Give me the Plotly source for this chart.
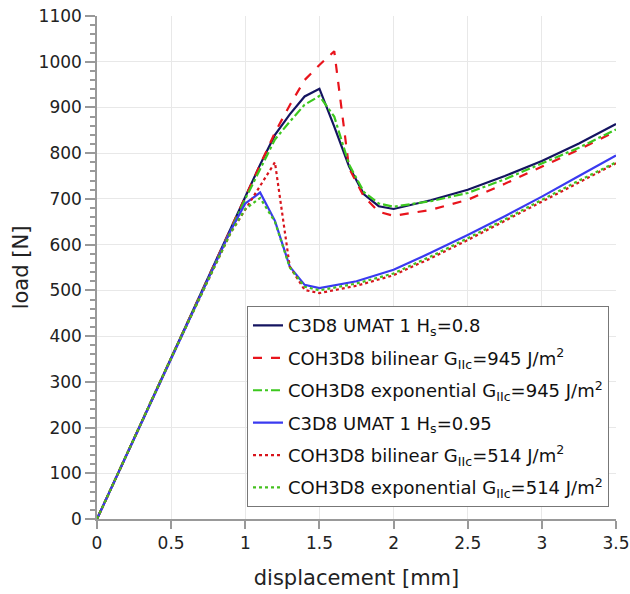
import plotly.graph_objects as go

# ---- data (displacement [mm], load [N]) ----
x_c3d8_08 = [0, 0.5, 1.0, 1.1, 1.2, 1.3, 1.4, 1.5, 1.6, 1.7, 1.8, 1.9, 2.0, 2.25, 2.5, 2.75, 3.0, 3.25, 3.5]
y_c3d8_08 = [0, 352, 705, 775, 840, 885, 924, 941, 858, 771, 710, 684, 678, 697, 720, 750, 783, 821, 864]

x_bil_945 = [0, 0.5, 1.0, 1.1, 1.2, 1.3, 1.4, 1.5, 1.6, 1.7, 1.8, 1.9, 2.0, 2.25, 2.5, 2.75, 3.0, 3.25, 3.5]
y_bil_945 = [0, 352, 705, 775, 845, 905, 960, 993, 1023, 767, 705, 672, 663, 676, 698, 733, 771, 808, 848]

x_exp_945 = [0, 0.5, 1.0, 1.1, 1.2, 1.3, 1.4, 1.5, 1.6, 1.7, 1.8, 1.9, 2.0, 2.25, 2.5, 2.75, 3.0, 3.25, 3.5]
y_exp_945 = [0, 352, 700, 765, 830, 869, 906, 925, 880, 775, 715, 690, 683, 695, 713, 743, 777, 812, 852]

x_c3d8_095 = [0, 0.5, 0.9, 1.0, 1.1, 1.2, 1.3, 1.4, 1.5, 1.75, 2.0, 2.25, 2.5, 2.75, 3.0, 3.25, 3.5]
y_c3d8_095 = [0, 352, 630, 690, 714, 652, 552, 512, 505, 520, 545, 582, 621, 662, 705, 750, 795]

x_bil_514 = [0, 0.5, 0.9, 1.0, 1.1, 1.2, 1.3, 1.4, 1.5, 1.75, 2.0, 2.25, 2.5, 2.75, 3.0, 3.25, 3.5]
y_bil_514 = [0, 352, 625, 676, 728, 780, 552, 501, 494, 510, 533, 570, 610, 652, 695, 737, 778]

x_exp_514 = [0, 0.5, 0.9, 1.0, 1.1, 1.2, 1.3, 1.4, 1.5, 1.75, 2.0, 2.25, 2.5, 2.75, 3.0, 3.25, 3.5]
y_exp_514 = [0, 352, 625, 678, 702, 650, 550, 508, 500, 515, 537, 574, 614, 655, 698, 740, 780]

x_ticks = [0, 0.5, 1, 1.5, 2, 2.5, 3, 3.5]
x_ticklabels = ["0", "0.5", "1", "1.5", "2", "2.5", "3", "3.5"]

series = [
    ("C3D8 UMAT 1 H<sub>s</sub>=0.8", x_c3d8_08, y_c3d8_08, "#141460", "solid"),
    ("COH3D8 bilinear G<sub>IIc</sub>=945 J/m<sup>2</sup>", x_bil_945, y_bil_945, "#e8141c", "dash"),
    ("COH3D8 exponential G<sub>IIc</sub>=945 J/m<sup>2</sup>", x_exp_945, y_exp_945, "#3cc81e", "dashdot"),
    ("C3D8 UMAT 1 H<sub>s</sub>=0.95", x_c3d8_095, y_c3d8_095, "#3a3af0", "solid"),
    ("COH3D8 bilinear G<sub>IIc</sub>=514 J/m<sup>2</sup>", x_bil_514, y_bil_514, "#d8141c", "dot"),
    ("COH3D8 exponential G<sub>IIc</sub>=514 J/m<sup>2</sup>", x_exp_514, y_exp_514, "#44c01e", "dot"),
]

fig = go.Figure()
for i, (name, xs, ys, color, dash) in enumerate(series):
    fig.add_trace(go.Scatter(x=xs, y=ys, mode="lines", name=name, legendgroup=f"g{i}",
                             line=dict(color=color, width=2.2, dash=dash)))

fig.update_layout(
    width=630, height=594,
    margin=dict(l=97, r=14, t=16, b=75, autoexpand=False),
    paper_bgcolor="white", plot_bgcolor="white",
    font=dict(family="DejaVu Sans", size=17, color="#222"),
    legend=dict(x=0.289, y=0.423, xanchor="left", yanchor="top",
                bgcolor="white", bordercolor="#777", borderwidth=1,
                font=dict(size=18, color="#111"), tracegroupgap=6,
                traceorder="grouped", itemwidth=30),
)
fig.update_xaxes(
    range=[0, 3.5], tickvals=x_ticks, ticktext=x_ticklabels,
    showgrid=True, gridcolor="#e8e8e8", gridwidth=1,
    showline=True, linecolor="#999", linewidth=1.5,
    ticks="outside", ticklen=8, tickcolor="#999", tickwidth=1.5,
    zeroline=False, automargin=False, ticklabeloverflow="allow",
    title=dict(text="displacement [mm]", font=dict(size=21), standoff=18),
)
fig.update_yaxes(
    range=[0, 1100], dtick=100, tick0=0,
    showgrid=True, gridcolor="#e8e8e8", gridwidth=1,
    showline=True, linecolor="#999", linewidth=1.5,
    ticks="outside", ticklen=10, tickcolor="#999", tickwidth=1.5,
    minor=dict(dtick=20, ticks="outside", ticklen=5, tickcolor="#999", showgrid=False),
    zeroline=False, automargin=False, ticklabeloverflow="allow",
    title=dict(text="load [N]", font=dict(size=21), standoff=4),
)

fig.write_html("out.html", config={"displayModeBar": False},
               post_script="document.body.style.margin='0';document.body.style.overflow='hidden';")
